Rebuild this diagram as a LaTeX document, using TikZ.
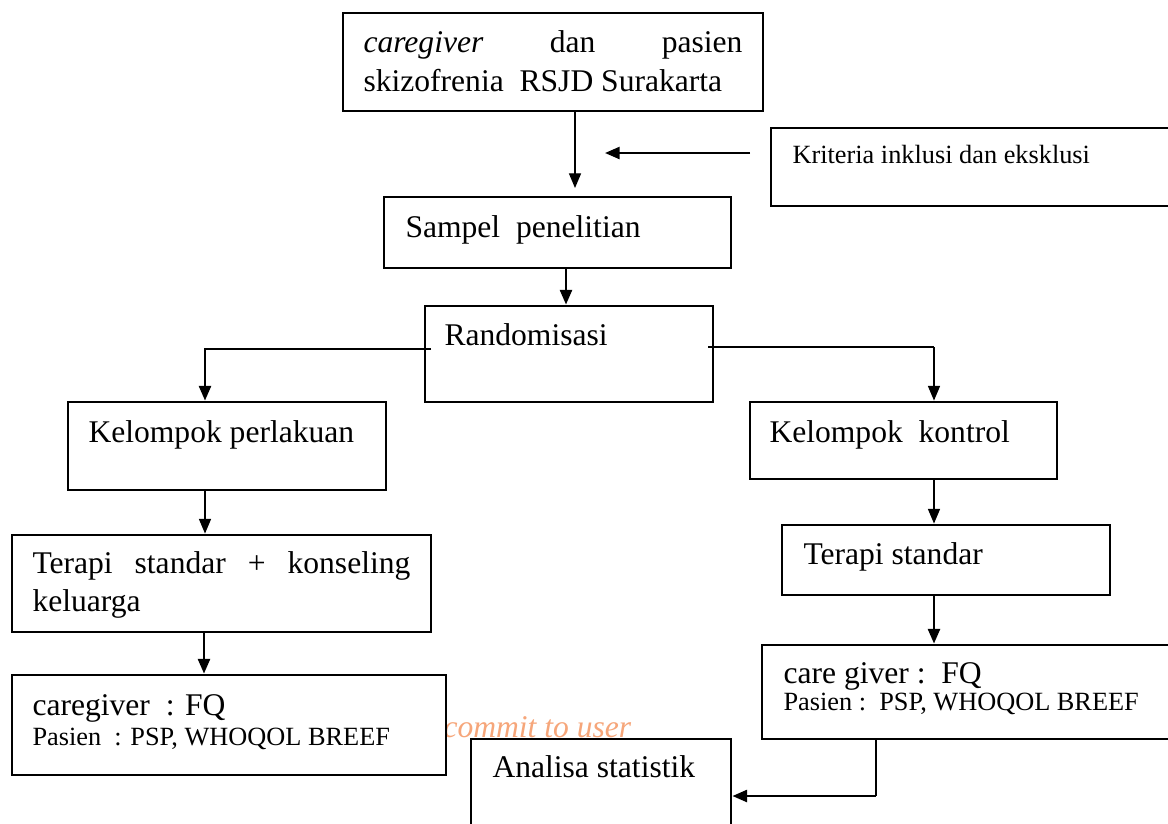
\documentclass[tikz,border=0pt]{standalone}
\usepackage{fontspec}
\setmainfont{Liberation Serif}
\usetikzlibrary{arrows.meta,fit}
\definecolor{commitorange}{RGB}{246,166,122}
\begin{document}
\begin{tikzpicture}[x=0.38pt,y=-0.38pt,
  box/.style={draw, line width=1.1pt, fill=white, inner sep=0pt},
  txt/.style={inner sep=0pt, anchor=base west, font=\fontsize{12}{14.6}\selectfont},
  small/.style={inner sep=0pt, anchor=base west, font=\fontsize{10}{12}\selectfont},
  thinarr/.style={line width=0.5pt, -{Triangle[length=5.6pt,width=4.6pt]}},
  thickarr/.style={line width=0.9pt, -{Triangle[length=5.6pt,width=4.6pt]}},
  thickln/.style={line width=0.9pt},
  thinln/.style={line width=0.5pt}]
\useasboundingbox (0,0) rectangle (1168,823);
\clip (0,0) rectangle (1168,823);
\fill[white] (0,0) rectangle (1168,823);

% watermark-like footer text
\node[txt, font=\fontsize{12}{14}\selectfont\itshape, text=commitorange] (tc) at (443,737) {commit to user};

% boxes
\node[box, fit={(343,13)(763,111)}] (b1) {};
\node[box, fit={(771,128)(1200,206)}] (krit) {};
\node[box, fit={(384,197)(731,268)}] (samp) {};
\node[box, fit={(425,306)(713,402)}] (rand) {};
\node[box, fit={(68,402)(386,490)}] (perl) {};
\node[box, fit={(750,402)(1057,479)}] (kont) {};
\node[box, fit={(12,535)(431,632)}] (tks) {};
\node[box, fit={(782,525)(1110,595)}] (ts) {};
\node[box, fit={(12,675)(446,775)}] (cgL) {};
\node[box, fit={(762,645)(1200,739)}] (cgR) {};
\node[box, fit={(471,739)(731,860)}] (anal) {};

% texts
\node[txt] (t1a) at (363,52) {\makebox[144pt][s]{\textit{caregiver} dan pasien}};
\node[txt] (t1b) at (363,91) {skizofrenia\ \ RSJD Surakarta};
\node[small] (tk) at (792,163) {Kriteria inklusi dan eksklusi};
\node[txt] (tsa) at (405,237) {Sampel\ \ penelitian};
\node[txt] (tr) at (444,345) {Randomisasi};
\node[txt] (tp) at (88,442) {Kelompok perlakuan};
\node[txt] (tkk) at (769,442) {Kelompok\ \ kontrol};
\node[txt] (tt1) at (32,573) {\makebox[143.6pt][s]{Terapi standar + konseling}};
\node[txt] (tt2) at (32,611) {keluarga};
\node[txt] (tts) at (803,564) {Terapi standar};
\node[txt] (tcl1) at (32,715) {caregiver\ \ : FQ};
\node[small] (tcl2) at (32,745) {Pasien\ \ : PSP, WHOQOL BREEF};
\node[txt] (tcr1) at (783,683) {care giver :\ \ FQ};
\node[small] (tcr2) at (783,710) {Pasien :\ \ PSP, WHOQOL BREEF};
\node[txt] (ta) at (492,777) {Analisa statistik};

% connector coordinates
\coordinate (x1) at (575,188);
\coordinate (k1) at (750,153);
\coordinate (k2) at (605,153);
\coordinate (x2) at (566,0);
\coordinate (lb) at (431,349);
\coordinate (lx) at (205,0);
\coordinate (lx2) at (204,0);
\coordinate (rb) at (708,347);
\coordinate (rx) at (934,347);
\coordinate (dx) at (876,796);

% connectors
\draw[thinarr] (b1.south -| x1) -- (x1);
\draw[thickarr] (k1) -- (k2);
\draw[thickarr] (samp.south -| x2) -- (rand.north -| x2);
\draw[thickarr] (lb) -| (perl.north -| lx);
\draw[thickln] (rb) -- (rx);
\draw[thinarr] (rx) -- (kont.north -| rx);
\draw[thinarr] (perl.south -| lx) -- (tks.north -| lx);
\draw[thickarr] (tks.south -| lx2) -- (cgL.north -| lx2);
\draw[thinarr] (kont.south -| rx) -- (ts.north -| rx);
\draw[thickarr] (ts.south -| rx) -- (cgR.north -| rx);
\draw[thinln] (cgR.south -| dx) -- (dx);
\draw[thickarr] (dx) -- (anal.east |- dx);
\end{tikzpicture}
\end{document}
